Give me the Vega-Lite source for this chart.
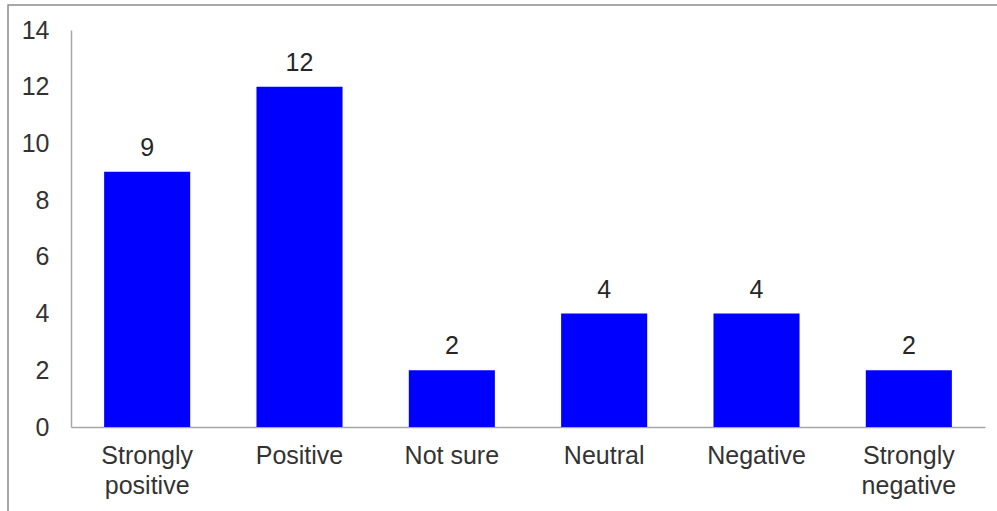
{
  "$schema": "https://vega.github.io/schema/vega-lite/v6.json",
  "autosize": "none",
  "width": 992,
  "height": 510,
  "padding": {"left": 8, "top": 5, "right": 0, "bottom": 0},
  "background": "white",
  "config": {
    "view": {"stroke": "#8c8c8c", "strokeWidth": 1.5},
    "font": "Liberation Sans"
  },
  "data": {
    "values": [
      {"response": "Strongly positive", "count": 9},
      {"response": "Positive", "count": 12},
      {"response": "Not sure", "count": 2},
      {"response": "Neutral", "count": 4},
      {"response": "Negative", "count": 4},
      {"response": "Strongly negative", "count": 2}
    ]
  },
  "encoding": {
    "x": {
      "field": "response",
      "type": "nominal",
      "sort": null,
      "scale": {"range": [63, 977], "paddingInner": 0.435, "paddingOuter": 0.2175},
      "axis": {
        "title": null,
        "offset": -88,
        "labelAngle": 0,
        "labelFont": "Liberation Sans",
        "labelFontSize": 25,
        "labelColor": "#333333",
        "labelPadding": 16,
        "labelLineHeight": 30,
        "labelExpr": "indexof(datum.label, 'Strongly') == 0 ? split(datum.label, ' ') : datum.label",
        "ticks": false,
        "domainColor": "#a6a6a6",
        "domainWidth": 1.5,
        "grid": false
      }
    },
    "y": {
      "field": "count",
      "type": "quantitative",
      "scale": {"domain": [0, 14], "range": [422, 25], "nice": false},
      "axis": {
        "title": null,
        "offset": -63,
        "values": [0, 2, 4, 6, 8, 10, 12, 14],
        "labelFont": "Liberation Sans",
        "labelFontSize": 25,
        "labelColor": "#333333",
        "labelPadding": 22,
        "ticks": false,
        "domainColor": "#a6a6a6",
        "domainWidth": 1.5,
        "grid": false
      }
    }
  },
  "layer": [
    {"mark": {"type": "bar", "color": "#0000ff"}},
    {
      "mark": {"type": "text", "dy": -24, "fontSize": 25, "color": "#262626", "font": "Liberation Sans"},
      "encoding": {"text": {"field": "count", "type": "quantitative"}}
    }
  ]
}
